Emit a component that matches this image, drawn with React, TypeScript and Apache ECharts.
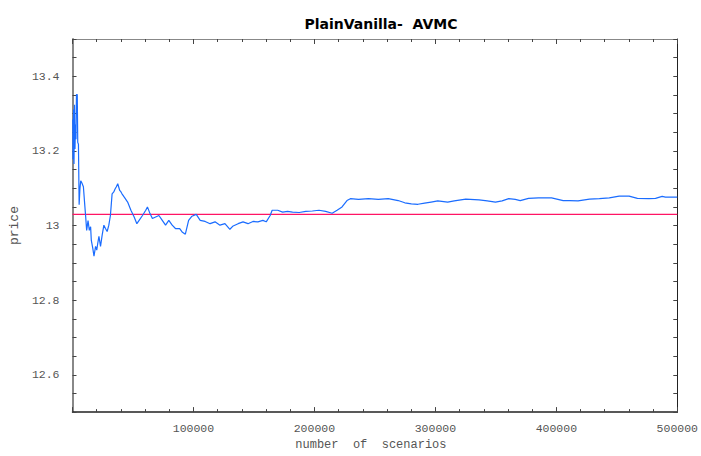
import React, { useEffect, useRef } from "react";
import * as echarts from "echarts";

const scenarios = [
  200, 409, 818, 1227, 1637, 2046, 2455, 2864, 3273, 3928, 4337, 4910, 5483, 6137, 6792, 7774,
  9002, 10065, 10884, 11702, 12848, 13912, 14975, 15548, 16776, 17758, 19067, 20049, 20867,
  21849, 23158, 24550, 25941, 27250, 28642, 30033, 31342, 32733, 34124, 35188, 36252, 37398,
  39034, 40098, 40917, 42799, 45581, 48282, 50982, 53192, 55074, 57856, 60557, 61948, 64075,
  66039, 68740, 71440, 74222, 76923, 79624, 82406, 85106, 88625, 90589, 93290, 95990, 98773,
  102292,
  105565, 109656, 113748, 117840, 121931, 126023, 130115, 132815, 136907, 140999, 145090,
  149182, 153274, 157365, 160147, 163421, 165057, 169640, 173731, 177823, 181915, 187398,
  192881, 198282, 203764, 209247, 214648, 218740, 222832, 226923, 229706, 236498, 244681,
  252864, 261047, 269231, 274713, 280114, 285597, 291080, 296481, 301964, 310147, 315630,
  325123, 336088, 342880, 349672, 355155, 360638, 366039, 370131, 377004, 385188, 396072,
  405646, 411047, 417921, 427414, 435597, 443781, 451964, 460147, 467021, 476514, 481997,
  487480, 490180, 500000,
];

const prices = [
  13.284, 13.178, 13.311, 13.165, 13.324, 13.205, 13.271, 13.231, 13.351, 13.351, 13.223,
  13.218, 13.056, 13.098, 13.12, 13.114, 13.104, 13.058, 13.024, 12.987, 13.013, 12.987,
  12.997, 12.96, 12.939, 12.918, 12.944, 12.934, 12.952, 12.971, 12.944, 12.975, 13.001,
  12.992, 12.984, 13.001, 13.027, 13.085, 13.09, 13.098, 13.104, 13.112, 13.094, 13.09,
  13.085, 13.076, 13.063, 13.041, 13.023, 13.005, 13.014, 13.027, 13.041, 13.05, 13.032,
  13.019, 13.023, 13.027, 13.014, 13.001, 13.014, 13.001, 12.992, 12.992, 12.983, 12.977,
  13.014, 13.025, 13.03,
  13.014, 13.011, 13.005, 13.01, 13.001, 13.005, 12.99, 12.999, 13.005, 13.01, 13.005,
  13.011, 13.01, 13.014, 13.01, 13.027, 13.041, 13.041, 13.036, 13.038, 13.036, 13.035,
  13.038, 13.039, 13.041, 13.038, 13.033, 13.041, 13.05, 13.067, 13.072, 13.07, 13.072,
  13.07, 13.072, 13.067, 13.061, 13.058, 13.057, 13.06, 13.063, 13.066, 13.063, 13.066,
  13.071, 13.069, 13.066, 13.063, 13.066, 13.072, 13.07, 13.067, 13.073, 13.074, 13.074,
  13.067, 13.067, 13.066, 13.071, 13.072, 13.074, 13.079, 13.079, 13.073, 13.072, 13.073,
  13.078, 13.076, 13.076,
];

const referencePrice = 13.03;
const xRange = [0, 500000];
const yRange = [12.5, 13.5];

const App: React.FC = () => {
  const ref = useRef<HTMLDivElement>(null);

  useEffect(() => {
    if (!ref.current) return;
    const chart = echarts.init(ref.current, null, {
      renderer: "svg",
      width: 701,
      height: 456,
    });
    const mono = "Liberation Mono";
    const tickLabel = { fontFamily: mono, fontSize: 11.5, color: "#555" };
    chart.setOption({
      animation: false,
      backgroundColor: "#fff",
      title: {
        text: "PlainVanilla-  AVMC",
        left: 376,
        textAlign: "center",
        top: 12,
        textStyle: {
          fontFamily: "DejaVu Sans",
          fontWeight: "bold",
          fontSize: 14,
          color: "#000",
        },
      },
      grid: { left: 71, right: 19, top: 39, bottom: 40 },
      xAxis: [
        {
          type: "value",
          position: "bottom",
          min: xRange[0],
          max: xRange[1],
          interval: 100000,
          name: "number  of  scenarios",
          nameLocation: "middle",
          nameGap: 20,
          nameTextStyle: { fontFamily: mono, fontSize: 12, color: "#555", padding: [0, 8, 0, 0] },
          axisLine: { show: true, onZero: false, lineStyle: { color: "#222", width: 1.5 } },
          axisTick: { show: true, inside: true, length: 5, lineStyle: { color: "#444" } },
          minorTick: { show: true, splitNumber: 5, length: 3, lineStyle: { color: "#444" } },
          splitLine: { show: false },
          axisLabel: {
            ...tickLabel,
            margin: 10,
            formatter: (v: number) => (v === 0 ? "" : String(v)),
          },
        },
        {
          type: "value",
          position: "top",
          min: xRange[0],
          max: xRange[1],
          interval: 100000,
          axisLine: { show: true, onZero: false, lineStyle: { color: "#888", width: 1 } },
          axisTick: { show: true, inside: true, length: 5, lineStyle: { color: "#444" } },
          minorTick: { show: true, splitNumber: 5, length: 3, lineStyle: { color: "#444" } },
          splitLine: { show: false },
          axisLabel: { show: false },
        },
      ],
      yAxis: [
        {
          type: "value",
          position: "left",
          min: yRange[0],
          max: yRange[1],
          interval: 0.05,
          name: "price",
          nameLocation: "middle",
          nameGap: 46,
          nameRotate: 90,
          nameTextStyle: { fontFamily: mono, fontSize: 13, color: "#555" },
          axisLine: { show: true, onZero: false, lineStyle: { color: "#888", width: 2 } },
          axisTick: { show: true, inside: true, length: 4, lineStyle: { color: "#444" } },
          splitLine: { show: false },
          axisLabel: {
            ...tickLabel,
            margin: 13,
            formatter: (v: number) => {
              const k = Math.round(v * 100);
              if (k % 20 !== 0) return "";
              return k === 1300 ? "13" : (k / 100).toFixed(1);
            },
          },
        },
        {
          type: "value",
          position: "right",
          min: yRange[0],
          max: yRange[1],
          interval: 0.05,
          axisLine: { show: true, onZero: false, lineStyle: { color: "#222", width: 1 } },
          axisTick: { show: true, inside: true, length: 4, lineStyle: { color: "#444" } },
          splitLine: { show: false },
          axisLabel: { show: false },
        },
      ],
      series: [
        {
          type: "line",
          name: "reference",
          data: [
            [xRange[0], referencePrice],
            [xRange[1], referencePrice],
          ],
          showSymbol: false,
          lineStyle: { color: "#ff1464", width: 1.2 },
          z: 2,
        },
        {
          type: "line",
          name: "price",
          data: scenarios.map((s, i) => [s, prices[i]]),
          showSymbol: false,
          lineStyle: { color: "#1a6cff", width: 1.2 },
          z: 3,
        },
      ],
    });
    return () => chart.dispose();
  }, []);

  return (
    <div
      ref={ref}
      style={{ position: "fixed", left: 0, top: 0, width: 701, height: 456 }}
    />
  );
};

export default App;
